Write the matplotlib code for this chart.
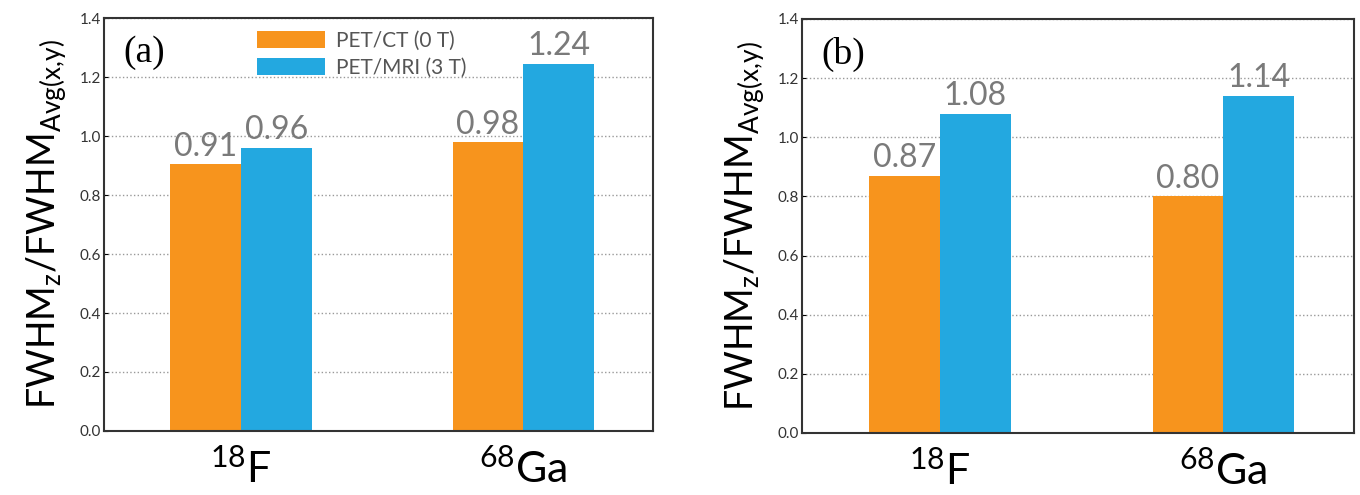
import matplotlib
matplotlib.use('Agg')
from matplotlib import pyplot as plt
import numpy as np

# data
isotopes = ['$^{18}$F', '$^{68}$Ga']
series_names = ['PET/CT (0 T)', 'PET/MRI (3 T)']
panel_a_petct = [0.905, 0.98]
panel_a_petmri = [0.96, 1.245]
panel_a_text_ct = ['0.91', '0.98']
panel_a_text_mri = ['0.96', '1.24']
panel_b_petct = [0.87, 0.80]
panel_b_petmri = [1.08, 1.14]
panel_b_text_ct = ['0.87', '0.80']
panel_b_text_mri = ['1.08', '1.14']

orange = '#F7941D'
blue = '#23A8E0'
grey_txt = '#7a7a7a'

plt.rcParams['font.family'] = ['Lato', 'DejaVu Sans']
plt.rcParams['mathtext.fontset'] = 'custom'
plt.rcParams['mathtext.rm'] = 'Lato'
plt.rcParams['mathtext.it'] = 'Lato'

fig = plt.figure(figsize=(13.6, 4.95), dpi=100)
ax_a = fig.add_axes([0.0765, 0.1293, 0.4037, 0.8343])
ax_b = fig.add_axes([0.5897, 0.1253, 0.4059, 0.8364])

x = np.arange(len(isotopes))
w = 0.25


def draw_panel(ax, ct, mri, txt_ct, txt_mri, tag, legend=False):
    b1 = ax.bar(x - w / 2, ct, w, color=orange, label=series_names[0], zorder=2)
    b2 = ax.bar(x + w / 2, mri, w, color=blue, label=series_names[1], zorder=2)
    for rect, t in zip(b1, txt_ct):
        ax.text(rect.get_x() + rect.get_width() / 2, rect.get_height() + 0.008, t,
                ha='center', va='bottom', fontsize=23, color=grey_txt)
    for rect, t in zip(b2, txt_mri):
        ax.text(rect.get_x() + rect.get_width() / 2, rect.get_height() + 0.008, t,
                ha='center', va='bottom', fontsize=23, color=grey_txt)
    ax.set_xlim(-0.485, 1.46)
    ax.set_ylim(0, 1.4)
    ax.set_yticks(np.arange(0, 1.41, 0.2))
    ax.set_yticklabels(['%.1f' % v for v in np.arange(0, 1.41, 0.2)])
    ax.set_xticks(x)
    ax.set_xticklabels(isotopes, fontsize=31)
    ax.tick_params(axis='y', labelsize=11, labelcolor='#333333', direction='in',
                   length=3, pad=2)
    ax.tick_params(axis='x', direction='in', length=3, pad=12)
    ax.yaxis.grid(True, linestyle=':', color='#999999', linewidth=1, zorder=0)
    ax.set_axisbelow(True)
    for s in ax.spines.values():
        s.set_color('#333333')
        s.set_linewidth(1.5)
    ax.set_ylabel('FWHM$_z$/FWHM$_{Avg(x{,}y)}$', fontsize=27, labelpad=8)
    ax.text(0.035, 0.915, tag, transform=ax.transAxes, fontsize=27,
            family='Liberation Serif', ha='left', va='center')
    if legend:
        leg = ax.legend(loc='upper left', bbox_to_anchor=(0.255, 1.0),
                        frameon=False, fontsize=15, handlelength=3.3,
                        handleheight=0.9, labelspacing=0.35, borderaxespad=0.2,
                        handletextpad=0.5)
        for t in leg.get_texts():
            t.set_color('#555555')


draw_panel(ax_a, panel_a_petct, panel_a_petmri, panel_a_text_ct, panel_a_text_mri,
           '(a)', legend=True)
draw_panel(ax_b, panel_b_petct, panel_b_petmri, panel_b_text_ct, panel_b_text_mri,
           '(b)')

fig.savefig('out.png', dpi=100)
